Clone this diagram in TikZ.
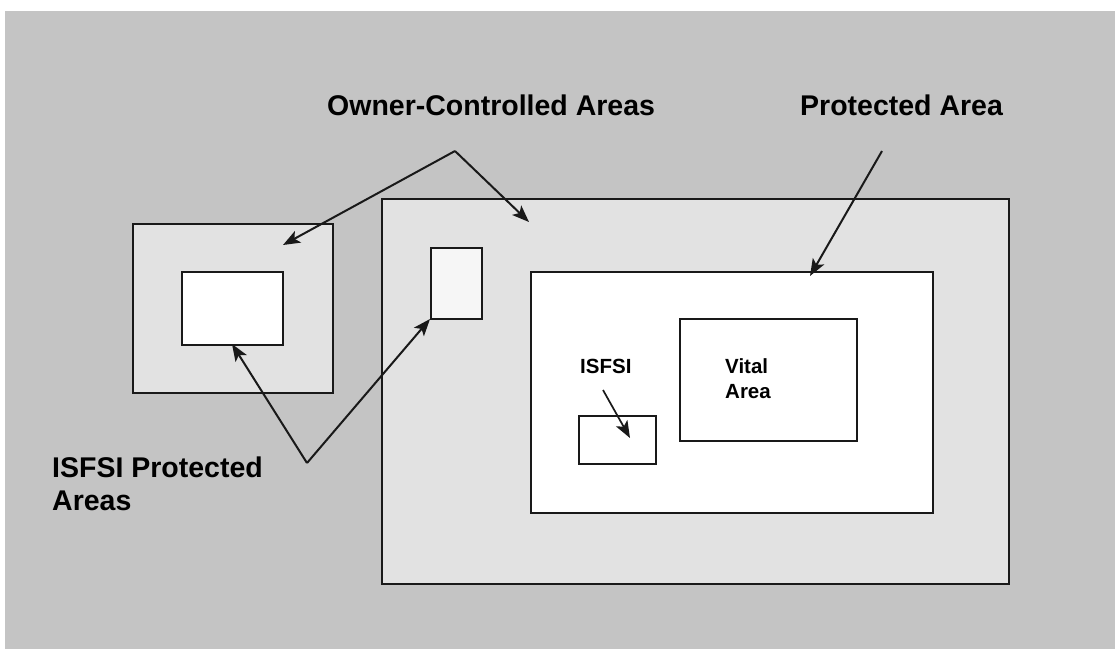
\documentclass[tikz,border=0pt]{standalone}
\usepackage{fontspec}
\setmainfont{Liberation Sans}
\usetikzlibrary{arrows.meta}
\definecolor{bggray}{HTML}{C4C4C4}
\definecolor{lightarea}{HTML}{E2E2E2}
\begin{document}
\begin{tikzpicture}[x=1pt,y=-1pt,
  area/.style={draw=black!90, line width=2.4pt, anchor=north west, inner sep=0pt},
  biglabel/.style={font=\fontsize{28.5}{33}\selectfont\bfseries, inner sep=0pt, text=black},
  smalllabel/.style={font=\fontsize{20.5}{25}\selectfont\bfseries, inner sep=0pt, text=black},
  pointer/.style={draw=black!90, line width=2pt, -{Stealth[length=17pt,width=13pt,inset=4pt]}},
  plainline/.style={draw=black, line width=2pt}]
\useasboundingbox (0,0) rectangle (1115,649);
\fill[white] (0,0) rectangle (1115,649);
\fill[bggray] (5,11) rectangle (1115,649);

% left owner-controlled area
\node[area, fill=lightarea, minimum width=200pt, minimum height=169pt] (leftoca) at (132,223) {};
\node[area, fill=white, minimum width=101pt, minimum height=73pt] (leftpa) at (181,271) {};

% big owner-controlled area
\node[area, fill=lightarea, minimum width=627pt, minimum height=385pt] (bigoca) at (381,198) {};
\node[area, fill=white!70!lightarea, minimum width=51pt, minimum height=71pt] (smallpa) at (430,247) {};

% protected area
\node[area, fill=white, minimum width=402pt, minimum height=241pt] (pa) at (530,271) {};
\node[area, line width=1.8pt, fill=white, minimum width=177pt, minimum height=122pt] (vital) at (679,318) {};
\node[area, line width=2pt, fill=white, minimum width=77pt, minimum height=48pt] (isfsi) at (578,415) {};

% labels
\node[biglabel, anchor=base west] (ocalabel) at (327,115) {Owner-Controlled Areas};
\node[biglabel, anchor=base west] (palabel) at (800,115) {Protected Area};
\node[biglabel, anchor=base west, align=left] (ipalabel) at (52,510) {ISFSI Protected\\Areas};
\node[smalllabel, anchor=base west] (isfsilabel) at (580,373) {ISFSI};
\node[smalllabel, anchor=base west, align=left] (vitallabel) at (725,398) {Vital\\Area};

% connector points
\coordinate (ocaapex) at (455,151);
\coordinate (ocatipL) at (283,245);
\coordinate (ocatipR) at (529,222);
\coordinate (pastart) at (882,151);
\coordinate (patip) at (810,276);
\coordinate (ipaapex) at (307,463);
\coordinate (ipatipL) at (232,344);
\coordinate (ipatipR) at (430,319);
\coordinate (isfsistart) at (603,390);
\coordinate (isfsitip) at (630,438);

\draw[pointer] (ocaapex) -- (ocatipL);
\draw[pointer] (ocaapex) -- (ocatipR);
\draw[pointer] (pastart) -- (patip);
\draw[pointer] (ipaapex) -- (ipatipL);
\draw[pointer] (ipaapex) -- (ipatipR);
\draw[pointer, line width=1.7pt] (isfsistart) -- (isfsitip);
\end{tikzpicture}
\end{document}
